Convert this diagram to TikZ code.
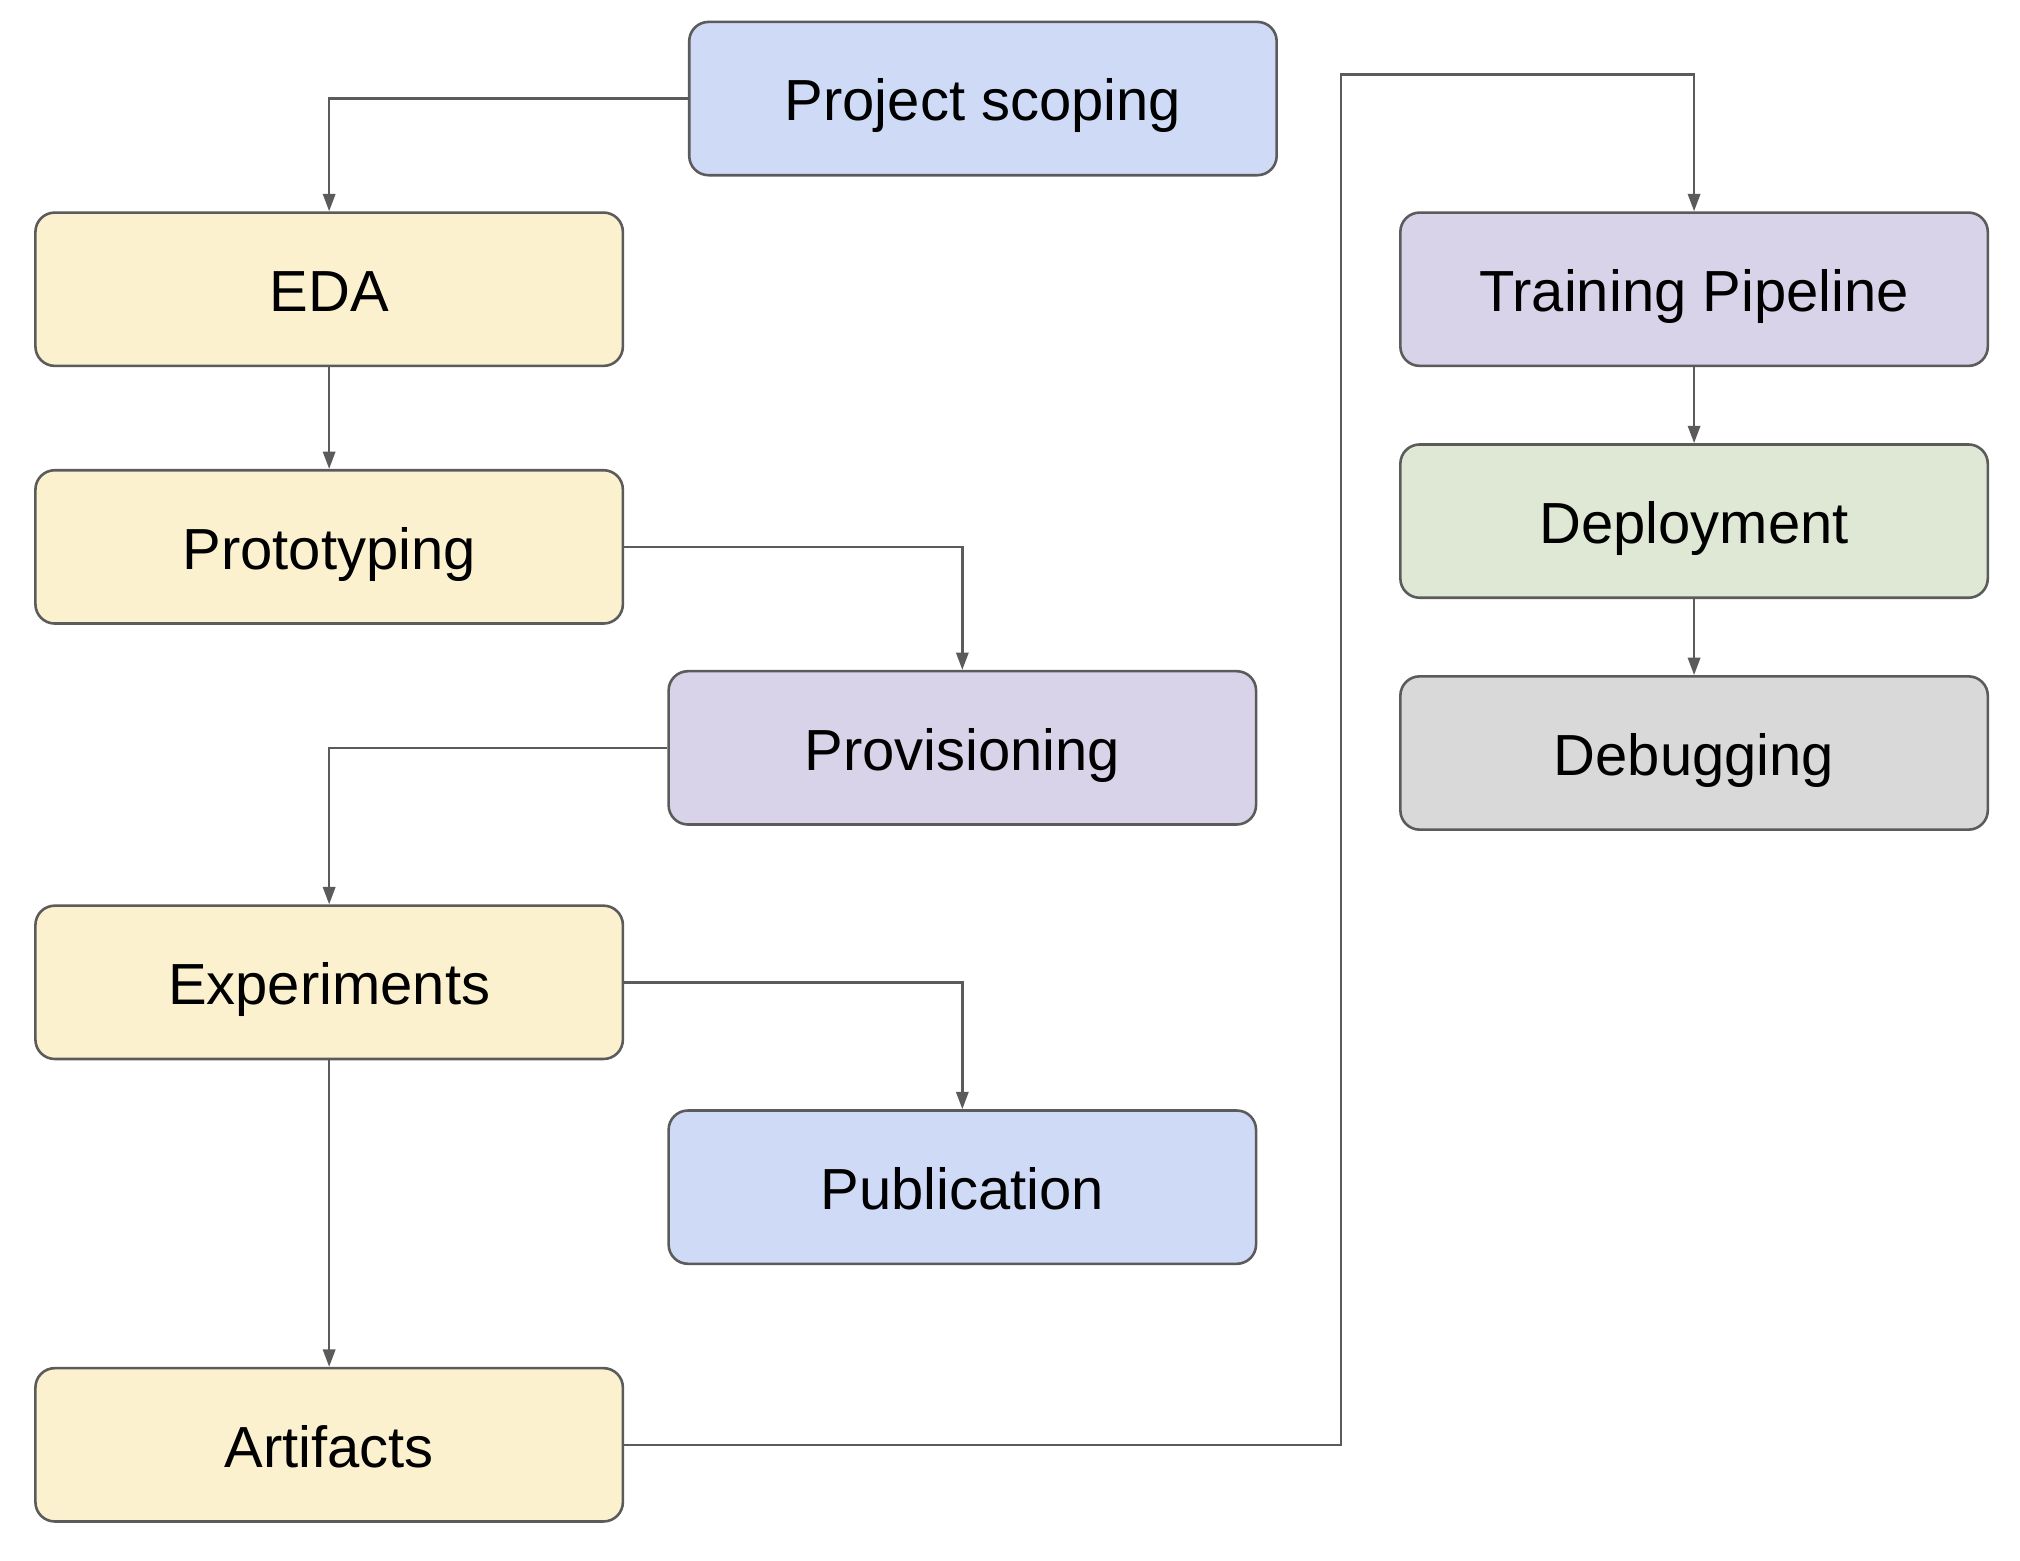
\documentclass[tikz,border=0pt]{standalone}
\usepackage{fontspec}
\setmainfont{Liberation Sans}
\usetikzlibrary{arrows.meta}
\definecolor{lineg}{HTML}{5B5B5B}
\definecolor{fyellow}{HTML}{FCF1CF}
\definecolor{fblue}{HTML}{CFDAF7}
\definecolor{fpurple}{HTML}{D8D3E8}
\definecolor{fgreen}{HTML}{DEE8D5}
\definecolor{fgray}{HTML}{D9D9D9}
\begin{document}
\begin{tikzpicture}[x=1pt,y=-1pt,
  box/.style={draw=lineg, line width=2pt, rounded corners=15pt,
    minimum width=456pt, minimum height=119pt, inner sep=0pt,
    font=\fontsize{45}{54}\selectfont, text height=34.5pt, text depth=0pt},
  conn/.style={draw=lineg, line width=2pt, -{Triangle[length=13.5pt,width=9.5pt]}}]
\useasboundingbox[fill=white] (0,0) rectangle (1568,1211);
\node[box, fill=fblue]   (scope) at (763,76.5)    {Project scoping};
\node[box, fill=fyellow] (eda)   at (255.5,224.5) {EDA};
\node[box, fill=fyellow] (proto) at (255.5,424.5) {Prototyping};
\node[box, fill=fpurple] (prov)  at (747,580.5)   {Provisioning};
\node[box, fill=fyellow] (exp)   at (255.5,762.5) {Experiments};
\node[box, fill=fblue]   (pub)   at (747,921.5)   {Publication};
\node[box, fill=fyellow] (art)   at (255.5,1121.5){Artifacts};
\node[box, fill=fpurple] (train) at (1315,224.5)  {Training Pipeline};
\node[box, fill=fgreen]  (dep)   at (1315,404.5)  {Deployment};
\node[box, fill=fgray]   (dbg)   at (1315,584.5)  {Debugging};
\coordinate (turn) at (1041,58);
\draw[conn] (scope.west) -| (eda.north);
\draw[conn] (eda.south) -- (proto.north);
\draw[conn] (proto.east) -| (prov.north);
\draw[conn] (prov.west) -| (exp.north);
\draw[conn] (exp.east) -| (pub.north);
\draw[conn] (exp.south) -- (art.north);
\draw[conn] (art.east) -| (turn) -| (train.north);
\draw[conn] (train.south) -- (dep.north);
\draw[conn] (dep.south) -- (dbg.north);
\end{tikzpicture}
\end{document}
